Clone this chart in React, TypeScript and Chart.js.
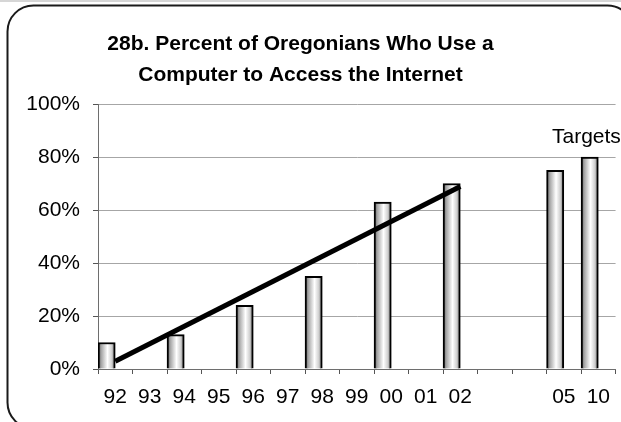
import React, { useEffect, useRef } from "react";
import { Chart, registerables } from "chart.js";

Chart.register(...registerables);

const categories = ["92", "93", "94", "95", "96", "97", "98", "99", "00", "01", "02", "", "", "05", "10"];
const barValues = [10, null, 13, null, 24, null, 35, null, 63, null, 70, null, null, 75, 80];
const placeholderValues = categories.map(() => null);
const trendValues = [2.9, null, null, null, null, null, null, null, null, null, 68.9, null, null, null, null];
const yTickLabels = ["0%", "20%", "40%", "60%", "80%", "100%"];
const titleLines = ["28b. Percent of Oregonians Who Use a", "Computer to Access the Internet"];
const targetsLabel = "Targets";

const FONT = "'Liberation Sans', Arial, Helvetica, sans-serif";

function roundRect(ctx: CanvasRenderingContext2D, x: number, y: number, w: number, h: number, r: number) {
  ctx.beginPath();
  ctx.moveTo(x + r, y);
  ctx.lineTo(x + w - r, y);
  ctx.arcTo(x + w, y, x + w, y + r, r);
  ctx.lineTo(x + w, y + h - r);
  ctx.arcTo(x + w, y + h, x + w - r, y + h, r);
  ctx.lineTo(x + r, y + h);
  ctx.arcTo(x, y + h, x, y + h - r, r);
  ctx.lineTo(x, y + r);
  ctx.arcTo(x, y, x + r, y, r);
  ctx.closePath();
}

const framePlugin = {
  id: "frame",
  beforeDraw(chart: any) {
    const ctx = chart.ctx as CanvasRenderingContext2D;
    ctx.save();
    ctx.fillStyle = "#ffffff";
    ctx.fillRect(0, 0, chart.width, chart.height);
    ctx.fillStyle = "#d6d6d6";
    ctx.fillRect(0, 0, chart.width, 2);
    ctx.strokeStyle = "#1a1a1a";
    ctx.lineWidth = 2;
    roundRect(ctx, 7.5, 5.5, 626, 423, 26);
    ctx.stroke();
    ctx.restore();
  },
  afterDraw(chart: any) {
    const ctx = chart.ctx as CanvasRenderingContext2D;
    ctx.save();
    ctx.fillStyle = "#000000";
    ctx.textAlign = "center";
    ctx.textBaseline = "alphabetic";
    ctx.font = `bold 21px ${FONT}`;
    ctx.fillText(titleLines[0], 300.5, 50);
    ctx.fillText(titleLines[1], 300.5, 81);
    ctx.textAlign = "left";
    ctx.font = `21px ${FONT}`;
    const ys = chart.scales.y;
    ctx.fillText(targetsLabel, 552, ys.getPixelForValue(88) + 7);
    ctx.restore();
  },
};

function barGradient(c: any) {
  const chart = c.chart;
  const xs = chart.scales && chart.scales.x;
  if (!xs || c.dataIndex === undefined || !isFinite(xs.width) || xs.width <= 0) return "#d0d0d0";
  const center = xs.getPixelForValue(c.dataIndex);
  const cw = xs.width / categories.length;
  const left = center - cw / 2;
  const right = center;
  const g = chart.ctx.createLinearGradient(left, 0, right, 0);
  g.addColorStop(0, "#5e5e5e");
  g.addColorStop(0.2, "#a8a8a8");
  g.addColorStop(0.55, "#ffffff");
  g.addColorStop(0.8, "#cfcfcf");
  g.addColorStop(1, "#6a6a6a");
  return g;
}

export default function App() {
  const ref = useRef<HTMLCanvasElement | null>(null);

  useEffect(() => {
    if (!ref.current) return;
    const chart = new Chart(ref.current, {
      type: "bar",
      data: {
        labels: categories,
        datasets: [
          {
            type: "line",
            data: trendValues,
            borderColor: "#000000",
            borderWidth: 5,
            pointRadius: 0,
            spanGaps: true,
            fill: false,
            order: 0,
          } as any,
          {
            type: "bar",
            data: barValues,
            backgroundColor: barGradient as any,
            borderColor: "#000000",
            borderWidth: 2,
            categoryPercentage: 1,
            barPercentage: 1,
            order: 1,
          },
          {
            type: "bar",
            data: placeholderValues,
            backgroundColor: "rgba(0,0,0,0)",
            categoryPercentage: 1,
            barPercentage: 1,
            order: 2,
          },
        ],
      },
      options: {
        animation: false,
        responsive: false,
        devicePixelRatio: 1,
        layout: { padding: { top: 104, left: 0, right: 0, bottom: 0 } },
        plugins: {
          legend: { display: false },
          title: { display: false },
          tooltip: { enabled: false },
        },
        scales: {
          x: {
            afterFit: (s: any) => {
              s.height = 53;
            },
            grid: {
              display: true,
              drawOnChartArea: false,
              drawTicks: true,
              tickLength: 5,
              tickColor: "#555555",
              offset: true,
            },
            border: { display: true, color: "#6e6e6e", width: 1 },
            ticks: {
              font: { family: FONT, size: 21 },
              color: "#000000",
              padding: 11,
              autoSkip: false,
              maxRotation: 0,
            },
          },
          y: {
            min: 0,
            max: 100,
            afterFit: (s: any) => {
              s.width = 98;
            },
            grid: {
              color: "#a6a6a6",
              lineWidth: 1,
              drawTicks: true,
              tickLength: 5,
              tickColor: "#555555",
            },
            border: { display: true, color: "#6e6e6e", width: 1 },
            ticks: {
              stepSize: 20,
              font: { family: FONT, size: 21 },
              color: "#000000",
              padding: 13,
              callback: (v: any) => yTickLabels[Math.round(Number(v) / 20)],
            },
          },
        },
      },
      plugins: [framePlugin],
    });
    return () => chart.destroy();
  }, []);

  return (
    <div style={{ position: "absolute", left: 0, top: 0, width: 621, height: 422, background: "#fff" }}>
      <canvas ref={ref} width={621} height={422} style={{ width: 621, height: 422, display: "block" }} />
    </div>
  );
}
